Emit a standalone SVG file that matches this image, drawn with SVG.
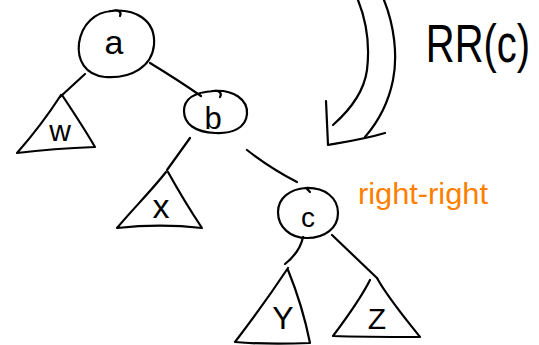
<svg xmlns="http://www.w3.org/2000/svg" width="539" height="345" viewBox="0 0 539 345">
<style>
.s{fill:none;stroke:#000;stroke-width:2.2;stroke-linecap:round;stroke-linejoin:round}
.t{font-family:"Liberation Sans",Arial,sans-serif;fill:#000;text-anchor:middle}
.o{font-family:"Liberation Sans",Arial,sans-serif;fill:#ff8000}
</style>
<rect width="539" height="345" fill="#fff"/>
<g id="connectors">
<path class="s" d="M85 74 L60 97"/>
<path class="s" d="M150 63 Q178 80 201 96"/>
<path class="s" d="M190 138 L167 170"/>
<path class="s" d="M247 150 Q270 168 297 182"/>
<path class="s" d="M303 237 Q300 252 285 264"/>
<path class="s" d="M332 235 L377 278"/>
</g>
<g id="node-a">
<path class="s" d="M110 11 C135 8 156 20 154 45 C152 66 132 79 105 77 C85 75 77 60 79 43 C82 24 95 12 112 11 C118 9 122 12 120 16"/>
<text class="t" x="114" y="54" font-size="34">a</text>
</g>
<g id="node-b">
<path class="s" d="M212 91 C234 89 248 100 247 114 C246 128 232 134 215 133 C195 132 184 124 184 111 C184 98 196 92 214 91 C220 90 222 94 220 97"/>
<text class="t" x="213" y="129" font-size="31">b</text>
</g>
<g id="node-c">
<path class="s" d="M305 188 C325 187 338 198 338 213 C338 228 325 238 307 238 C290 238 278 227 278 212 C278 198 290 189 306 188 L310 192"/>
<text class="t" x="308" y="227" font-size="28">c</text>
</g>
<g id="tree-w">
<path class="s" d="M61 95 C50 112 32 136 17 153 C42 150 70 148 95 147 C84 128 72 110 62 95"/>
<text class="t" x="60" y="141" font-size="30">w</text>
</g>
<g id="tree-x">
<path class="s" d="M166 172 C152 190 132 210 117 228 C145 225 175 225 202 228 C190 210 178 190 168 172"/>
<text class="t" x="161" y="218" font-size="34">x</text>
</g>
<g id="tree-y">
<path class="s" d="M288 268 C270 295 252 320 235 342 C258 344 285 344 310 343 C305 318 297 292 288 270"/>
<text class="t" x="283" y="329" font-size="32">Y</text>
</g>
<g id="tree-z">
<path class="s" d="M370 280 C360 300 345 320 333 336 C360 337 390 337 420 337 C405 318 388 298 377 278"/>
<text class="t" x="377" y="329" font-size="30">Z</text>
</g>
<g id="arrow">
<path class="s" d="M358 0 C366 20 370 45 367 70 C364 92 350 110 333 125"/>
<path class="s" d="M384 0 C394 25 398 55 393 80 C388 105 378 122 365 137"/>
<path class="s" d="M326 101 L328 145 C345 142 365 139 385 133"/>
</g>
<g id="label-rr">
<text class="t" transform="translate(478 62) scale(0.74 1)" x="0" y="0" font-size="54">RR(c)</text>
</g>
<g id="label-right">
<text class="o" x="358" y="204" font-size="30" textLength="130" lengthAdjust="spacingAndGlyphs">right-right</text>
</g>
</svg>
